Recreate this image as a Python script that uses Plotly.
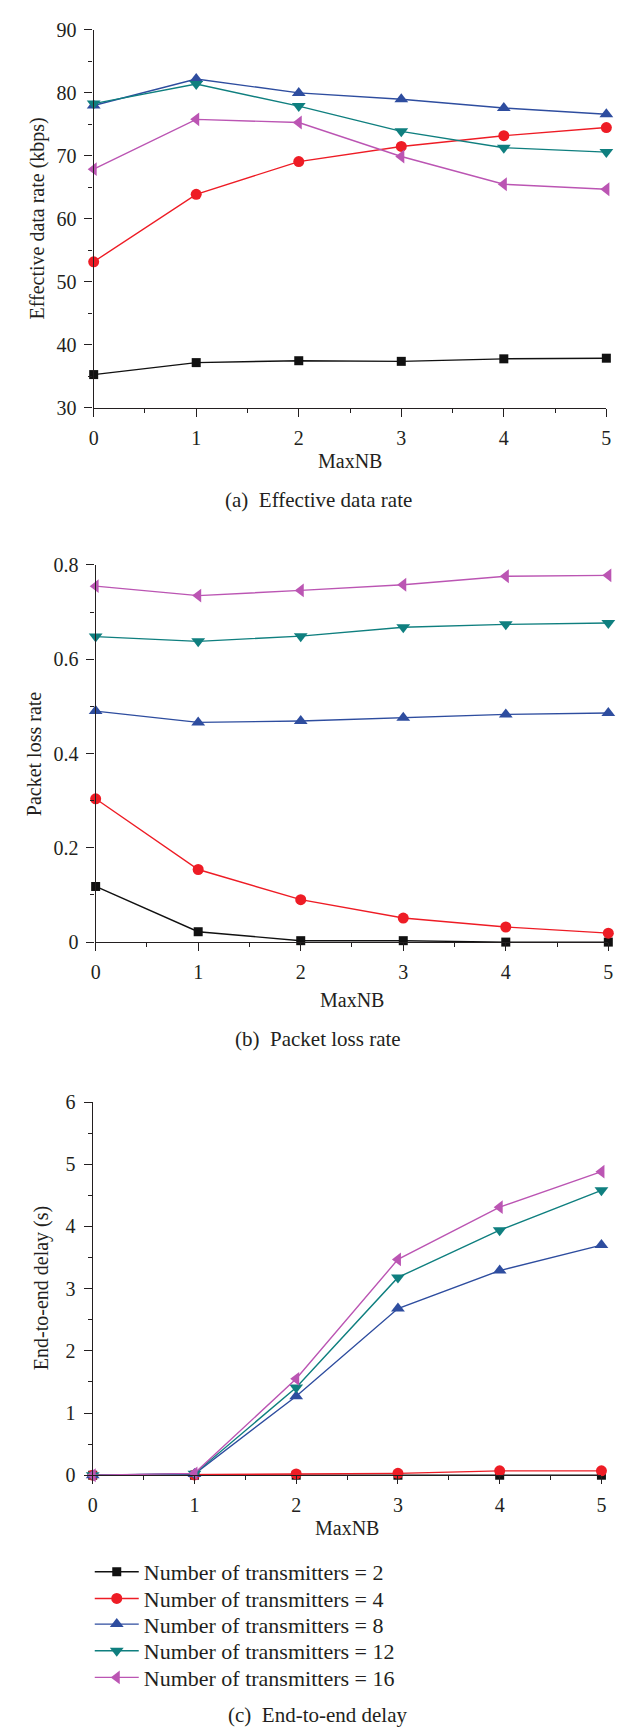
import plotly.graph_objects as go

# ---------------- data ----------------
maxnb = [0, 1, 2, 3, 4, 5]
series_names = [
    "Number of transmitters = 2",
    "Number of transmitters = 4",
    "Number of transmitters = 8",
    "Number of transmitters = 12",
    "Number of transmitters = 16",
]

rate_n2 = [35.3, 37.2, 37.5, 37.4, 37.8, 37.9]
rate_n4 = [53.2, 63.9, 69.1, 71.5, 73.2, 74.5]
rate_n8 = [78.0, 82.2, 80.0, 79.0, 77.6, 76.6]
rate_n12 = [78.3, 81.4, 77.9, 73.9, 71.3, 70.6]
rate_n16 = [67.9, 75.8, 75.3, 69.9, 65.5, 64.7]

loss_n2 = [0.118, 0.022, 0.003, 0.003, 0.0, 0.0]
loss_n4 = [0.304, 0.154, 0.090, 0.051, 0.032, 0.019]
loss_n8 = [0.490, 0.466, 0.469, 0.476, 0.483, 0.486]
loss_n12 = [0.648, 0.638, 0.649, 0.668, 0.674, 0.677]
loss_n16 = [0.755, 0.735, 0.746, 0.758, 0.776, 0.778]

delay_n2 = [0.0, 0.0, 0.0, 0.0, 0.0, 0.0]
delay_n4 = [0.0, 0.005, 0.02, 0.03, 0.07, 0.07]
delay_n8 = [0.0, 0.02, 1.27, 2.68, 3.29, 3.70]
delay_n12 = [0.0, 0.025, 1.41, 3.18, 3.94, 4.58]
delay_n16 = [0.0, 0.03, 1.55, 3.47, 4.31, 4.88]

panel_titles = ["(a)\u2002Effective data rate", "(b)\u2002Packet loss rate", "(c)\u2002End-to-end delay"]
y_titles = ["Effective data rate (kbps)", "Packet loss rate", "End-to-end delay (s)"]
x_title = "MaxNB"

# ---------------- styles ----------------
colors = ["#111111", "#ee1c25", "#2e4d9f", "#0f7f7f", "#bb55b3"]
symbols = ["square", "circle", "triangle-up", "triangle-down", "triangle-left"]
msizes = [9, 11, 12, 12, 12]
ink = "#231f20"
FONT = "Liberation Serif"

W, H = 625, 1728

# pixel layout of each panel (plot box, title centres, caption centre)
panels = [
    dict(data=[rate_n2, rate_n4, rate_n8, rate_n12, rate_n16], yr=[30, 90], dt=10, mdt=5,
         x0=82, x1=603, top=11, bot=394, cap=487, xt=448, yt=25),
    dict(data=[loss_n2, loss_n4, loss_n8, loss_n12, loss_n16], yr=[0, 0.8], dt=0.2, mdt=0.1,
         x0=84, x1=605, top=553, bot=935, cap=1033, xt=994, yt=21),
    dict(data=[delay_n2, delay_n4, delay_n8, delay_n12, delay_n16], yr=[0, 6], dt=1, mdt=0.5,
         x0=81, x1=598, top=1097, bot=1475, cap=1718, xt=1528, yt=29),
]
legend_rows = [1573, 1600, 1626, 1653, 1680]
legend_ids = ["legend", "legend2", "legend3", "legend4", "legend5"]

fig = go.Figure()
annotations = []
for p_i, p in enumerate(panels):
    sfx = "" if p_i == 0 else str(p_i + 1)
    for s_i, ys in enumerate(p["data"]):
        fig.add_trace(go.Scatter(
            x=maxnb, y=ys, mode="lines+markers",
            name=series_names[s_i],
            legend=legend_ids[s_i],
            showlegend=(p_i == 2),
            line=dict(color=colors[s_i], width=1.4),
            marker=dict(symbol=symbols[s_i], size=msizes[s_i], color=colors[s_i],
                        line=dict(width=0)),
            xaxis="x" + sfx, yaxis="y" + sfx,
            cliponaxis=False,
        ))
    axis_common = dict(showline=True, linecolor=ink, linewidth=1.4, ticks="outside",
                       ticklen=8, tickwidth=1.4, tickcolor=ink, showgrid=False,
                       zeroline=False, tickfont=dict(size=20, family=FONT, color=ink))
    fig.update_layout(**{
        "xaxis" + sfx: dict(
            domain=[p["x0"] / W, p["x1"] / W], anchor="y" + sfx, range=[0, 5],
            dtick=1, tick0=0, ticklabelstandoff=4,
            minor=dict(ticks="outside", ticklen=4, tickwidth=1.2, tickcolor=ink, dtick=0.5),
            **axis_common),
        "yaxis" + sfx: dict(
            domain=[1 - p["bot"] / H, 1 - p["top"] / H], anchor="x" + sfx, range=p["yr"],
            dtick=p["dt"], tick0=0, ticklabelstandoff=4,
            minor=dict(ticks="outside", ticklen=4, tickwidth=1.2, tickcolor=ink, dtick=p["mdt"]),
            **axis_common),
    })
    # x-axis title
    annotations.append(dict(
        text=x_title, x=(p["x0"] + p["x1"]) / 2 / W, y=1 - p["xt"] / H,
        xref="paper", yref="paper", xanchor="center", yanchor="middle", showarrow=False,
        font=dict(size=20, family=FONT, color=ink)))
    # y-axis title
    annotations.append(dict(
        text=y_titles[p_i], x=p["yt"] / W, y=1 - (p["top"] + p["bot"]) / 2 / H,
        xref="paper", yref="paper", xanchor="center", yanchor="middle", showarrow=False,
        textangle=-90, font=dict(size=20, family=FONT, color=ink)))
    # panel caption
    annotations.append(dict(
        text=panel_titles[p_i], x=310 / W, y=1 - p["cap"] / H, xref="paper", yref="paper",
        xanchor="center", yanchor="middle", showarrow=False,
        font=dict(size=21, family=FONT, color=ink)))

legend_layout = {}
for r_i, lid in enumerate(legend_ids):
    legend_layout[lid] = dict(
        x=78 / W, y=1 - legend_rows[r_i] / H, xanchor="left", yanchor="middle",
        font=dict(size=22, family=FONT, color=ink), bgcolor="rgba(0,0,0,0)",
        itemwidth=44, borderwidth=0)

fig.update_layout(
    width=W, height=H,
    margin=dict(l=0, r=0, t=0, b=0),
    plot_bgcolor="white", paper_bgcolor="white",
    font=dict(family=FONT, size=20, color=ink),
    annotations=annotations,
    **legend_layout,
)

fig.write_html("out.html")
